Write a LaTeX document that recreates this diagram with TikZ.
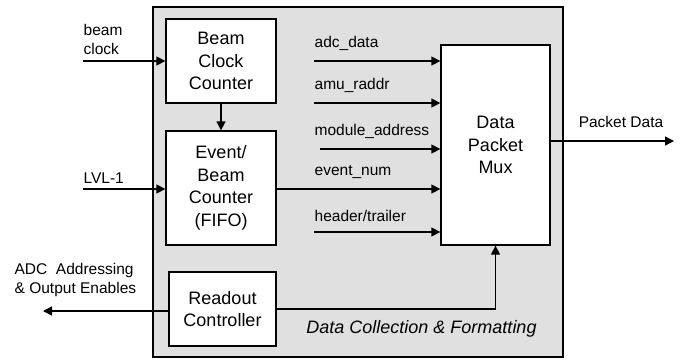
\documentclass[tikz,border=0pt]{standalone}
\usepackage{fontspec}
\setmainfont{Liberation Sans}
\usetikzlibrary{calc,arrows.meta}

\begin{document}
\begin{tikzpicture}[x=1pt,y=-1pt,line width=1.3pt]

\tikzstyle{block}=[draw,fill=white,align=center,inner sep=0pt,
  font=\fontsize{18}{22.5}\selectfont]
\tikzstyle{sig}=[-{Triangle[length=9pt,width=9pt]}]
\tikzstyle{lbl}=[inner sep=0pt,align=left,font=\fontsize{15.5}{19}\selectfont]

\useasboundingbox (0,0) rectangle (682,360);

%%% FRAME %%%
\draw[fill=black!12] (153,7) rectangle (563,357);
\node[lbl,font=\fontsize{18}{22}\selectfont\itshape] (title) at (421.5,329) {Data Collection \& Formatting};

%%% BLOCKS %%%
\node[block,minimum width=110pt,minimum height=84pt] (bcc) at (221,61) {Beam\\Clock\\Counter};
\node[block,minimum width=110pt,minimum height=114pt] (evt) at (221,188) {Event/\\Beam\\Counter\\(FIFO)};
\node[block,minimum width=107pt,minimum height=74pt] (rdo) at (222.5,309) {Readout\\Controller};
\node[block,minimum width=109pt,minimum height=200pt] (mux) at (495.5,145) {Data\\Packet\\Mux};

%%% INPUTS %%%
\coordinate (beamin) at (83,61);
\coordinate (lvlin) at (83,189);
\node[lbl,anchor=south west] (beamlbl) at (83,55) {beam\\clock};
\node[lbl,anchor=south west] (lvllbl) at (83,184) {LVL-1};
\draw[sig] (beamin) -- (bcc.west);
\draw[sig] (lvlin) -- (lvlin -| evt.west);
\draw[sig] (bcc.south) -- (evt.north);

%%% SIGNALS TO MUX %%%
\foreach \y/\x/\name/\txt in {61/314/adc/{adc\_data},103/314/amu/{amu\_raddr},
  149/320/mod/{module\_address},232/314/hdr/{header/trailer}}{
  \coordinate (\name) at (\x,\y);
  \node[lbl,anchor=south west] (\name lbl) at (314,\y-10) {\txt};
  \draw[sig] (\name) -- (\name -| mux.west);
}
\coordinate (evn) at (276,189);
\node[lbl,anchor=south west] (evnlbl) at (314,179) {event\_num};
\draw[sig] (evt.east |- evn) -- (evn -| mux.west);

%%% OUTPUTS %%%
\coordinate (pktout) at (674,141);
\node[lbl] (pktlbl) at (621,122) {Packet Data};
\draw[sig] (mux.east |- pktout) -- (pktout);

\coordinate (adcout) at (43,311);
\node[lbl,anchor=north west] (adclbl) at (14,263) {ADC\ \ Addressing\\\& Output Enables};
\draw[sig] (rdo.west |- adcout) -- (adcout);
\draw[sig] (rdo.east) -| (mux.south);

\end{tikzpicture}
\end{document}
